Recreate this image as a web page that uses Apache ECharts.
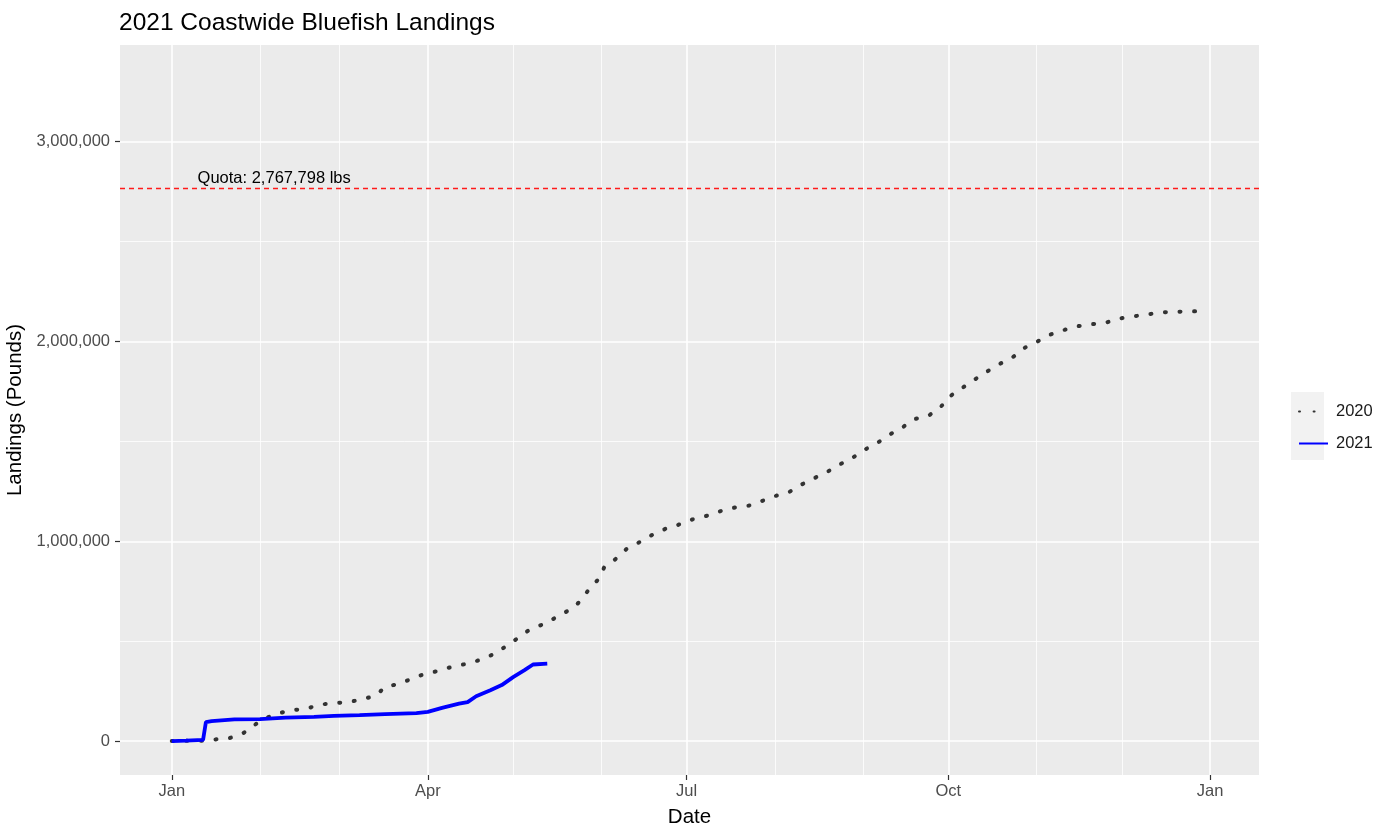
<!DOCTYPE html>
<html><head><meta charset="utf-8">
<script src="https://cdn.jsdelivr.net/npm/echarts@6/dist/echarts.min.js"></script>
<style>html,body{margin:0;padding:0;background:#fff}#c{width:1391px;height:828px}</style>
</head><body><div id="c"></div>
<script>
// ---- data (2020 plotted on the 2021 calendar, as in the original) ----
const dates2020 = ['2021-01-01','2021-01-13','2021-01-17','2021-01-21','2021-01-26','2021-01-30','2021-02-03','2021-02-08','2021-02-12','2021-02-17','2021-02-22','2021-02-27','2021-03-04','2021-03-09','2021-03-14','2021-03-17','2021-03-22','2021-03-27','2021-03-31','2021-04-05','2021-04-10','2021-04-15','2021-04-20','2021-04-25','2021-04-29','2021-05-03','2021-05-07','2021-05-13','2021-05-17','2021-05-22','2021-05-25','2021-05-28','2021-05-31','2021-06-02','2021-06-06','2021-06-10','2021-06-15','2021-06-19','2021-06-24','2021-06-28','2021-07-03','2021-07-08','2021-07-13','2021-07-18','2021-07-23','2021-07-27','2021-08-01','2021-08-06','2021-08-10','2021-08-15','2021-08-19','2021-08-23','2021-08-28','2021-09-01','2021-09-06','2021-09-10','2021-09-15','2021-09-19','2021-09-24','2021-09-28','2021-10-02','2021-10-06','2021-10-10','2021-10-15','2021-10-19','2021-10-24','2021-10-28','2021-11-01','2021-11-05','2021-11-10','2021-11-15','2021-11-19','2021-11-25','2021-11-29','2021-12-04','2021-12-09','2021-12-15','2021-12-20','2021-12-25','2021-12-31'];
const landings2020 = [0,2000,9000,13000,38000,80000,115000,140000,155000,160000,182000,190000,195000,208000,230000,272000,286000,316000,336000,352000,374000,387000,409000,440000,480000,518000,560000,592000,628000,664000,707000,766000,810000,869000,911000,963000,1000000,1033000,1065000,1082000,1109000,1127000,1151000,1169000,1179000,1199000,1226000,1246000,1281000,1317000,1343000,1379000,1414000,1454000,1492000,1531000,1571000,1611000,1628000,1668000,1730000,1769000,1807000,1853000,1887000,1925000,1970000,1997000,2030000,2055000,2075000,2085000,2092000,2112000,2124000,2133000,2146000,2149000,2150000,2153000];
const dates2021 = ['2021-01-01','2021-01-06','2021-01-12','2021-01-13','2021-01-15','2021-01-23','2021-02-01','2021-02-10','2021-02-20','2021-02-27','2021-03-08','2021-03-17','2021-03-28','2021-04-01','2021-04-06','2021-04-12','2021-04-15','2021-04-18','2021-04-23','2021-04-27','2021-05-01','2021-05-05','2021-05-08','2021-05-13'];
const landings2021 = [0,2000,6000,95000,100000,108000,110000,117000,121000,126000,130000,135000,140000,146000,166000,187000,195000,224000,254000,280000,320000,355000,383000,387000];
const quota = 2767798;
const quotaLabel = 'Quota: 2,767,798 lbs';
const quotaLabelDate = '2021-02-06';
const quotaLabelValue = 2815000;
const xTickDates = ['2021-01-01','2021-04-01','2021-07-01','2021-10-01','2022-01-01'];
const xTickLabels = ['Jan','Apr','Jul','Oct','Jan'];
const monthStarts = ['2021-01-01','2021-02-01','2021-03-01','2021-04-01','2021-05-01','2021-06-01','2021-07-01','2021-08-01','2021-09-01','2021-10-01','2021-11-01','2021-12-01','2022-01-01'];
const yTicks = [0, 1000000, 2000000, 3000000];
const yMinorTicks = [500000, 1500000, 2500000];

// ---- build ----
const ts = s => { const [y, m, d] = s.split('-').map(Number); return Date.UTC(y, m - 1, d); };
const dataStart = ts(dates2020[0]), dataEnd = ts(dates2020[dates2020.length - 1]);
const pad = (dataEnd - dataStart) * 0.05;
const xTickTs = xTickDates.map(ts);
const fmt = v => Math.round(v).toString().replace(/\B(?=(\d{3})+(?!\d))/g, ',');
const FONT = '"Liberation Sans", Arial, sans-serif';

const chart = echarts.init(document.getElementById('c'), null, { renderer: 'canvas' });
chart.setOption({
  animation: false,
  textStyle: { fontFamily: FONT },
  title: {
    text: '2021 Coastwide Bluefish Landings', left: 119, top: 11, padding: 0,
    textStyle: { fontSize: 24.5, fontWeight: 'normal', color: '#000', fontFamily: FONT }
  },
  grid: { left: 120, right: 132, top: 45, bottom: 53, show: true, backgroundColor: '#EBEBEB', borderWidth: 0,
    containLabel: false, outerBoundsMode: 'none' },
  legend: {
    data: ['2020', '2021'], orient: 'vertical', left: 1293, top: 398, itemWidth: 29, itemHeight: 14, itemGap: 15,
    itemStyle: { opacity: 0 },
    textStyle: { fontSize: 16.5, color: '#1A1A1A', padding: [0, 0, 0, 3] }
  },
  graphic: [{ type: 'rect', left: 1291, top: 392, shape: { width: 33, height: 68 }, style: { fill: '#F2F2F2' }, z: -1, silent: true }],
  xAxis: {
    type: 'value', min: dataStart - pad, max: dataEnd + pad, scale: true,
    name: 'Date', nameLocation: 'middle', nameGap: 32,
    nameTextStyle: { fontSize: 20.5, color: '#000' },
    axisLine: { show: false, onZero: false },
    axisTick: { show: true, customValues: xTickTs, length: 5, lineStyle: { color: '#333', width: 1.2 } },
    axisLabel: { customValues: xTickTs, margin: 8, fontSize: 16.5, color: '#4D4D4D',
      formatter: v => { let best = 0; xTickTs.forEach((t, i) => { if (Math.abs(t - v) < Math.abs(xTickTs[best] - v)) best = i; }); return xTickLabels[best]; } },
    splitLine: { show: false }
  },
  yAxis: {
    type: 'value', min: -170000, max: 3484000,
    name: 'Landings (Pounds)', nameLocation: 'middle', nameGap: 88,
    nameTextStyle: { fontSize: 20.5, color: '#000' },
    axisLine: { show: false, onZero: false },
    axisTick: { show: true, customValues: yTicks, length: 5, lineStyle: { color: '#333', width: 1.2 } },
    axisLabel: { customValues: yTicks, margin: 10, fontSize: 16.5, color: '#4D4D4D', formatter: v => fmt(v) },
    splitLine: { show: false }
  },
  series: [
    {
      name: 'grid', type: 'line', data: [], silent: true, z: 0,
      markLine: {
        silent: true, z: 1, symbol: ['none', 'none'], label: { show: false }, animation: false,
        data: [
          ...monthStarts.map(d => ({ xAxis: ts(d), lineStyle: { color: '#FFFFFF', type: 'solid', width: xTickDates.includes(d) ? 1.6 : 0.8 } })),
          ...yTicks.map(v => ({ yAxis: v, lineStyle: { color: '#FFFFFF', type: 'solid', width: 1.6 } })),
          ...yMinorTicks.map(v => ({ yAxis: v, lineStyle: { color: '#FFFFFF', type: 'solid', width: 0.8 } }))
        ]
      }
    },
    {
      name: 'quota', type: 'line', data: [], silent: true, z: 3,
      markLine: {
        silent: true, z: 3, symbol: ['none', 'none'], label: { show: false }, animation: false,
        data: [{ yAxis: quota, lineStyle: { color: '#FF1A1A', type: [5, 4], width: 1.3 } }]
      },
      markPoint: {
        silent: true, animation: false,
        data: [{ coord: [ts(quotaLabelDate), quotaLabelValue], symbol: 'circle', symbolSize: 0,
          label: { show: true, formatter: quotaLabel, position: 'inside', color: '#000', fontSize: 16.5 } }]
      }
    },
    {
      name: '2020', type: 'line', z: 4, symbol: 'none', showSymbol: false,
      data: dates2020.map((d, i) => [ts(d), landings2020[i]]),
      itemStyle: { color: '#333333' },
      lineStyle: { color: '#333333', width: 4, type: [1, 13.6], cap: 'round' }
    },
    {
      name: '2021', type: 'line', z: 5, symbol: 'none', showSymbol: false,
      data: dates2021.map((d, i) => [ts(d), landings2021[i]]),
      itemStyle: { color: '#0000FF' },
      lineStyle: { color: '#0000FF', width: 3.8 }
    }
  ]
});
</script>
</body></html>
